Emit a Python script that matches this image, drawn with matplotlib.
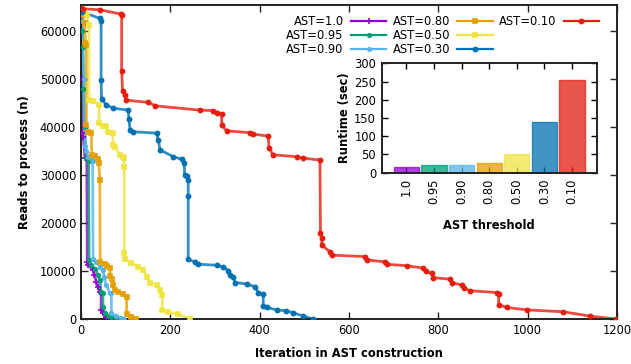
import numpy as np
import matplotlib.pyplot as plt
from matplotlib.lines import Line2D

# iteration / reads-to-process pairs for each AST threshold
it_100 = [0, 1, 2, 3, 5, 9, 13, 14, 16, 27, 30, 34, 38, 42, 45, 45, 49, 56, 68]
rd_100 = [64500, 60000, 50000, 38700, 38000, 33500, 33300, 11900, 11200, 10200, 9200, 7800, 6700, 5700, 5400, 1900, 1200, 500, 0]

it_095 = [0, 3, 4, 5, 8, 12, 17, 18, 23, 31, 38, 42, 45, 49, 49, 53, 60, 68, 79]
rd_095 = [64500, 60000, 56700, 48000, 40000, 33500, 33000, 12300, 11300, 10500, 9200, 8100, 5700, 5400, 2600, 1200, 700, 400, 0]

it_090 = [0, 3, 6, 9, 12, 16, 22, 26, 27, 34, 42, 49, 52, 56, 64, 68, 68, 79, 90, 96]
rd_090 = [64500, 62000, 50000, 36000, 34900, 33800, 33500, 33000, 12600, 11900, 10900, 10200, 8800, 7100, 5500, 5400, 1300, 600, 200, 0]

it_080 = [0, 4, 8, 10, 12, 12, 16, 23, 24, 31, 38, 40, 42, 43, 53, 58, 65, 65, 70, 72, 76, 83, 95, 102, 102, 113, 122]
rd_080 = [64500, 63300, 61600, 57400, 57100, 40400, 39000, 38800, 34200, 34000, 33300, 32400, 29000, 11900, 11400, 11000, 10600, 9000, 8400, 7000, 6000, 5600, 5200, 4500, 1000, 500, 0]

it_050 = [0, 8, 13, 18, 18, 27, 40, 41, 50, 57, 61, 71, 72, 76, 87, 93, 96, 97, 97, 99, 113, 128, 139, 148, 154, 169, 177, 182, 182, 195, 218, 244]
rd_050 = [64500, 63800, 63300, 61200, 45600, 45300, 44600, 40800, 40200, 40200, 39000, 38700, 36200, 35900, 34200, 33800, 33500, 31700, 13800, 12400, 11600, 10900, 10200, 8800, 7400, 7100, 6000, 5000, 1900, 1500, 1000, 0]

it_030 = [0, 2, 42, 45, 45, 46, 57, 72, 106, 107, 110, 117, 169, 173, 177, 207, 225, 231, 232, 237, 240, 240, 240, 255, 263, 304, 319, 330, 334, 341, 345, 371, 390, 397, 408, 408, 416, 438, 460, 475, 498, 520]
rd_030 = [64500, 64000, 62600, 62100, 49800, 45800, 44600, 43900, 43500, 41600, 39400, 39000, 38700, 37300, 35200, 33800, 33300, 32400, 30000, 29800, 29000, 25600, 12400, 11900, 11400, 11200, 10800, 10100, 9200, 8700, 7600, 7300, 6700, 5500, 5300, 2800, 2400, 1900, 1700, 1300, 600, 0]

it_010 = [0, 5, 42, 90, 91, 91, 93, 98, 100, 151, 166, 266, 296, 304, 315, 315, 326, 378, 386, 419, 421, 430, 483, 498, 535, 536, 539, 539, 557, 561, 636, 640, 680, 684, 729, 766, 772, 785, 789, 826, 830, 852, 857, 871, 931, 935, 935, 953, 998, 1080, 1140, 1197]
rd_010 = [64800, 64600, 64400, 63500, 63300, 51700, 47400, 46700, 45600, 45100, 44400, 43500, 43400, 43000, 42800, 40400, 39200, 38800, 38500, 38100, 35600, 34200, 33800, 33500, 33100, 17900, 16800, 15400, 14000, 13300, 13000, 12300, 11900, 11400, 11100, 10600, 9900, 9500, 8600, 8300, 7600, 7100, 6400, 5900, 5500, 5300, 3000, 2400, 1900, 1500, 600, 0]

thresholds = ['1.0', '0.95', '0.90', '0.80', '0.50', '0.30', '0.10']
runtime = [17, 20, 22, 28, 51, 140, 254]

colors = ['#9400D3', '#009E73', '#56B4E9', '#E69F00', '#F0E442', '#0072B2', '#E51E10']
markers = ['+', 'o', 'o', 's', 's', 'o', 'o']
msizes = [4, 2.5, 2.5, 3.5, 3.5, 3, 3]
series = [(it_100, rd_100), (it_095, rd_095), (it_090, rd_090), (it_080, rd_080),
          (it_050, rd_050), (it_030, rd_030), (it_010, rd_010)]

plt.rcParams['font.family'] = 'DejaVu Sans'
plt.rcParams['font.size'] = 8.3

fig = plt.figure(figsize=(6.31, 3.64), dpi=100)
ax = fig.add_axes([0.1284, 0.1236, 0.8494, 0.8627])

handles = []
for (xs, ys), c, m, ms, t in zip(series, colors, markers, msizes, thresholds):
    ax.plot(xs, ys, color=c, lw=2.0, alpha=0.8, zorder=2, solid_joinstyle='round')
    ax.plot(xs, ys, color=c, lw=0, marker=m, ms=ms, mew=1.2, zorder=3)
    handles.append(Line2D([], [], color=c, lw=1.6, marker=m, ms=ms, mew=1.2,
                          label='AST=' + t))
# two empty slots so the legend fills 3 / 3 / 1
for _ in range(2):
    handles.append(Line2D([], [], lw=0, label=' '))

ax.set_xlim(0, 1200)
ax.set_ylim(0, 65400)
ax.set_xticks(np.arange(0, 1201, 200))
ax.set_yticks(np.arange(0, 60001, 10000))
ax.tick_params(direction='in', length=5, width=1, top=True, right=True, colors='#222222')
ax.tick_params(labelcolor='black')
for s in ax.spines.values():
    s.set_linewidth(1.4)
    s.set_color('#222222')
ax.set_xlabel('Iteration in AST construction', fontweight='bold', labelpad=7)
ax.set_ylabel('Reads to process (n)', fontweight='bold', labelpad=6)

ax.legend(handles=handles, ncol=3, loc='upper right', bbox_to_anchor=(0.982, 0.995),
          frameon=False, markerfirst=False, handlelength=3.1, handletextpad=0.6,
          columnspacing=0.55, labelspacing=0.12, borderpad=0.2)

# inset with runtimes
ins = fig.add_axes([0.6049, 0.5255, 0.3407, 0.3006])
pos = np.arange(len(thresholds))
ins.bar(pos, runtime, width=0.92, color=colors, alpha=0.75, edgecolor=colors, lw=1, zorder=2)
ins.set_xlim(-0.9, 6.9)
ins.set_ylim(0, 300)
ins.set_yticks(np.arange(0, 301, 50))
ins.set_xticks(pos)
ins.set_xticklabels(thresholds, rotation=90)
ins.tick_params(direction='in', length=4, width=1, top=True, right=True, pad=4)
for s in ins.spines.values():
    s.set_linewidth(1.4)
    s.set_color('#222222')
ins.set_ylabel('Runtime (sec)', fontweight='bold', labelpad=2)
ins.set_xlabel('AST threshold', fontweight='bold', labelpad=11)

fig.savefig('out.png', dpi=100)
